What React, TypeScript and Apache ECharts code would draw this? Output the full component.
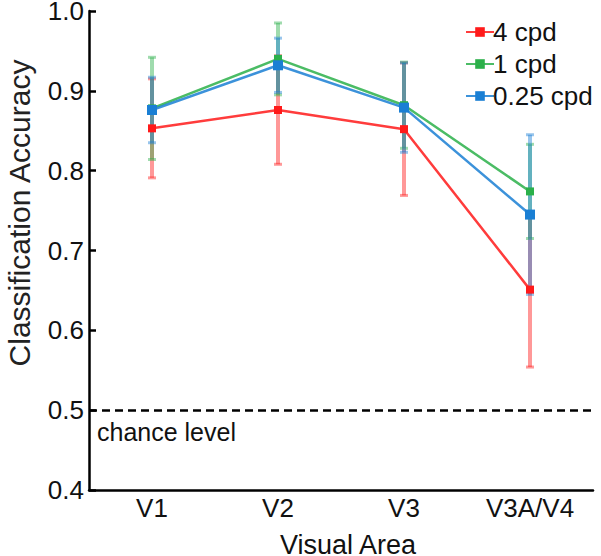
import React, { useEffect, useRef } from "react";
import * as echarts from "echarts";

const categories = ["V1", "V2", "V3", "V3A/V4"];
const seriesNames = ["4 cpd", "1 cpd", "0.25 cpd"];
const mean4cpd = [0.853, 0.876, 0.852, 0.651];
const err4cpd = [0.062, 0.068, 0.083, 0.097];
const mean1cpd = [0.878, 0.94, 0.882, 0.774];
const err1cpd = [0.064, 0.045, 0.054, 0.059];
const mean025cpd = [0.876, 0.932, 0.879, 0.745];
const err025cpd = [0.041, 0.034, 0.056, 0.1];
const chanceLevel = 0.5;
const chanceLabel = "chance level";

const colors = ["#ff1a1a", "#2bb04a", "#1a7fd4"];
const FONT = "Liberation Sans, Arial, sans-serif";

export default function App() {
  const ref = useRef<HTMLDivElement>(null);
  useEffect(() => {
    if (!ref.current) return;
    const chart = echarts.init(ref.current, undefined, { renderer: "svg" });
    const means = [mean4cpd, mean1cpd, mean025cpd];
    const errs = [err4cpd, err1cpd, err025cpd];

    const errSeries = means.map((m, s) => ({
      type: "custom",
      z: 2,
      silent: true,
      data: m.map((v, i) => [i, v - errs[s][i], v + errs[s][i]]),
      renderItem: (params: any, api: any) => {
        const x = api.value(0);
        const lo = api.coord([x, api.value(1)]);
        const hi = api.coord([x, api.value(2)]);
        const style = { stroke: colors[s], lineWidth: 4, opacity: 0.45 };
        const cap = 4;
        return {
          type: "group",
          children: [
            { type: "line", shape: { x1: lo[0], y1: lo[1], x2: hi[0], y2: hi[1] }, style },
            { type: "line", shape: { x1: lo[0] - cap, y1: lo[1], x2: lo[0] + cap, y2: lo[1] }, style: { ...style, lineWidth: 3 } },
            { type: "line", shape: { x1: hi[0] - cap, y1: hi[1], x2: hi[0] + cap, y2: hi[1] }, style: { ...style, lineWidth: 3 } },
          ],
        };
      },
    }));

    const lineSeries = means.map((m, s) => ({
      type: "line",
      name: seriesNames[s],
      z: 5,
      data: m,
      symbol: "rect",
      symbolSize: s === 2 ? 10 : 8,
      lineStyle: { color: colors[s], width: 2.5, opacity: 0.85 },
      itemStyle: { color: colors[s] },
      ...(s === 0
        ? {
            markLine: {
              silent: true,
              symbol: "none",
              label: { show: false },
              lineStyle: { color: "#000", type: [8, 5], width: 2.5, opacity: 1 },
              data: [{ yAxis: chanceLevel }],
            },
          }
        : {}),
    }));

    chart.setOption({
      animation: false,
      textStyle: { fontFamily: FONT },
      grid: { left: 89, right: 8, top: 11, bottom: 66, containLabel: false, outerBoundsMode: "none" },
      legend: {
        data: seriesNames,
        orient: "vertical",
        left: 460,
        top: 14,
        itemWidth: 28,
        itemHeight: 12,
        itemGap: 6,
        textStyle: { fontSize: 26, color: "#111", fontFamily: FONT, lineHeight: 26, padding: [0, 0, 0, -6] },
      },
      xAxis: {
        type: "category",
        data: categories,
        boundaryGap: true,
        name: "Visual Area",
        nameLocation: "middle",
        nameGap: 41,
        nameTextStyle: { fontSize: 27, color: "#111", fontFamily: FONT, padding: [0, 0, 0, 14] },
        axisLine: { lineStyle: { color: "#000", width: 2.5 } },
        axisTick: { inside: true, alignWithLabel: true, length: 6, lineStyle: { width: 2.5 } },
        axisLabel: { fontSize: 26, color: "#111", margin: 5, fontFamily: FONT },
      },
      yAxis: {
        type: "value",
        min: 0.4,
        max: 1.0,
        interval: 0.1,
        splitLine: { show: false },
        axisLine: { show: true, lineStyle: { color: "#000", width: 2.5 } },
        axisTick: { show: true, inside: true, length: 7, lineStyle: { width: 2.5 } },
        axisLabel: {
          fontSize: 26,
          color: "#111",
          margin: 5,
          fontFamily: FONT,
          formatter: (v: number) => v.toFixed(1),
        },
      },
      graphic: [
        {
          type: "text",
          x: 19,
          y: 213,
          rotation: Math.PI / 2,
          style: {
            text: "Classification Accuracy",
            fontSize: 30,
            fontFamily: FONT,
            fill: "#222",
            align: "center",
            verticalAlign: "middle",
          },
        },
        {
          type: "text",
          x: 97,
          y: 432,
          style: {
            text: chanceLabel,
            fontSize: 25,
            fontFamily: FONT,
            fill: "#111",
            align: "left",
            verticalAlign: "middle",
          },
        },
      ],
      series: [...errSeries, ...lineSeries],
    });
    return () => chart.dispose();
  }, []);
  return (
    <div
      ref={ref}
      style={{ position: "absolute", left: 0, top: 0, width: 601, height: 556 }}
    />
  );
}
